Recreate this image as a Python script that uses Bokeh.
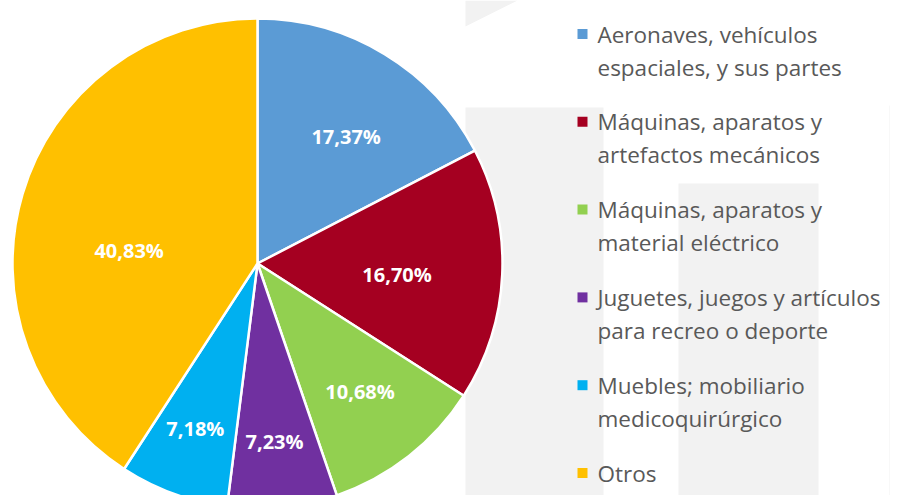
import numpy as np
from bokeh.plotting import figure
from bokeh.models import Range1d, ColumnDataSource, BoxAnnotation, PolyAnnotation
from bokeh.core.properties import value
from bokeh.embed import file_html
from bokeh.resources import INLINE

# ---- data ----
categories = [
    "Aeronaves, vehículos\nespaciales, y sus partes",
    "Máquinas, aparatos y\nartefactos mecánicos",
    "Máquinas, aparatos y\nmaterial eléctrico",
    "Juguetes, juegos y artículos\npara recreo o deporte",
    "Muebles; mobiliario\nmedicoquirúrgico",
    "Otros",
]
shares = [17.37, 16.70, 10.68, 7.23, 7.18, 40.83]
share_labels = ["17,37%", "16,70%", "10,68%", "7,23%", "7,18%", "40,83%"]
colors = ["#5B9BD5", "#A50021", "#92D050", "#7030A0", "#00B0F0", "#FFC000"]

# ---- layout (ref pixel coordinates; y is measured from the top) ----
FW, FH = 890, 495
cx, cy_top, R = 257, 263, 245
label_r = [155, 140, 164, 179, 176, 129]
label_shift = [-3.6, -2.0, 0.6, -0.4, -0.6, 10.7]  # degrees, best-fit nudges as in the source

def Y(y_top):
    return FH - y_top

p = figure(width=FW, height=FH, output_backend="svg", toolbar_location=None,
           x_range=Range1d(0, FW), y_range=Range1d(0, FH),
           min_border=0, x_axis_location=None, y_axis_location=None)
p.grid.visible = False
p.outline_line_color = None
p.background_fill_color = "white"
p.border_fill_color = "white"

# faint background watermark
wm = "#F2F2F2"
for l, r, t in [(465, 603, 107), (678, 818, 183), (889, 898, 105)]:
    p.add_layout(BoxAnnotation(left=l, right=r, top=Y(t), bottom=Y(503),
                               fill_color=wm, fill_alpha=1, line_color=None, level="underlay"))
p.add_layout(PolyAnnotation(xs=[465, 517, 465], ys=[Y(0), Y(0), Y(26)],
                            fill_color=wm, fill_alpha=1, line_color=None, level="underlay"))

# ---- pie ----
frac = np.array(shares) / sum(shares)
ends = np.pi / 2 - np.cumsum(frac) * 2 * np.pi
starts = np.concatenate([[np.pi / 2], ends[:-1]])
src = ColumnDataSource(dict(start=starts, end=ends, color=colors))
p.wedge(x=cx, y=Y(cy_top), radius=R, start_angle="start", end_angle="end",
        direction="clock", fill_color="color", line_color="white", line_width=2.5,
        source=src)

mid = (starts + ends) / 2 + np.radians(label_shift)
lx = cx + np.array(label_r) * np.cos(mid)
ly = Y(cy_top) + np.array(label_r) * np.sin(mid)
p.text(x=lx, y=ly, text=share_labels, text_color="white",
       text_font=value("Open Sans"), text_font_style="bold", text_font_size="20px",
       text_align="center", text_baseline="middle")

# ---- legend ----
first_sq = 33.5
step = 87.8
line_gap = 33
sq_x, sq = 582, 10
tx = 597
lines_x, lines_y, lines_t = [], [], []
sq_y = []
for i, cat in enumerate(categories):
    c = first_sq + i * step
    sq_y.append(Y(c))
    for j, ln in enumerate(cat.split("\n")):
        lines_x.append(tx)
        lines_y.append(Y(c + j * line_gap))
        lines_t.append(ln)
p.rect(x=[sq_x] * len(categories), y=sq_y, width=sq, height=sq,
       fill_color=colors, line_color=None)
p.text(x=lines_x, y=lines_y, text=lines_t, text_color="#595959",
       text_font=value("Open Sans"), text_font_size="22.5px",
       text_align="left", text_baseline="middle")

open("out.html", "w").write(file_html(p, INLINE))
